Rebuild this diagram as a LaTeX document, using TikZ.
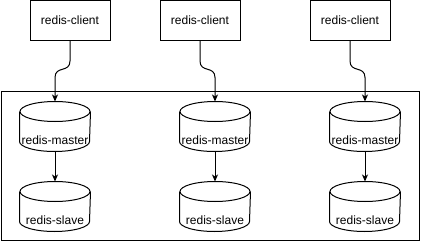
\documentclass[tikz,border=0pt]{standalone}
\usepackage{fontspec}
\setmainfont{Liberation Sans}
\usetikzlibrary{arrows.meta,positioning,calc}

\begin{document}
\begin{tikzpicture}[x=1pt, y=-1pt, line width=1pt,
  font=\fontsize{12pt}{14pt}\selectfont, >={Stealth[length=7pt, width=6pt, inset=2pt]},
  client/.style={rectangle, draw, minimum width=80pt, minimum height=40pt, inner sep=0pt},
  db/.style={rectangle, minimum width=70pt, minimum height=49pt, inner sep=0pt},
  dblabel/.style={inner sep=0pt, anchor=center}]
  \useasboundingbox (0,0) rectangle (421,241);

  % cluster frame
  \node[rectangle, draw, minimum width=418pt, minimum height=149pt, inner sep=0pt,
        anchor=north west] (cluster) at (0.5,90.5) {};

  % clients
  \node[client] (c1) at (70,20.5) {redis-client};
  \node[client] (c2) at (200,20.5) {redis-client};
  \node[client] (c3) at (350,20.5) {redis-client};

  % master / slave pairs
  \foreach \i/\x in {1/55, 2/215, 3/365} {
    \node[db] (m\i) at (\x,126.5) {};
    \node[db] (s\i) at (\x,206.5) {};
    \foreach \n in {m\i, s\i} {
      \draw ($(\n.north)+(0,10)$) ellipse [x radius=35, y radius=10];
      \draw ($(\n.north west)+(0,10)$) -- ($(\n.south west)+(0,-10)$)
        arc [start angle=180, end angle=0, x radius=35, y radius=10]
        -- ($(\n.north east)+(0,10)$);
    }
    \node[dblabel] (ml\i) at ($(m\i.south)+(0,-11)$) {redis-master};
    \node[dblabel] (sl\i) at ($(s\i.south)+(0,-11)$) {redis-slave};
    \draw[->] (m\i.south) -- (s\i.north);
    \draw[->] (c\i.south) -- ++(0,20) .. controls +(0,12) and +(0,-12)
      .. ($(m\i.north)+(0,-24)$) -- (m\i.north);
  }
\end{tikzpicture}
\end{document}
